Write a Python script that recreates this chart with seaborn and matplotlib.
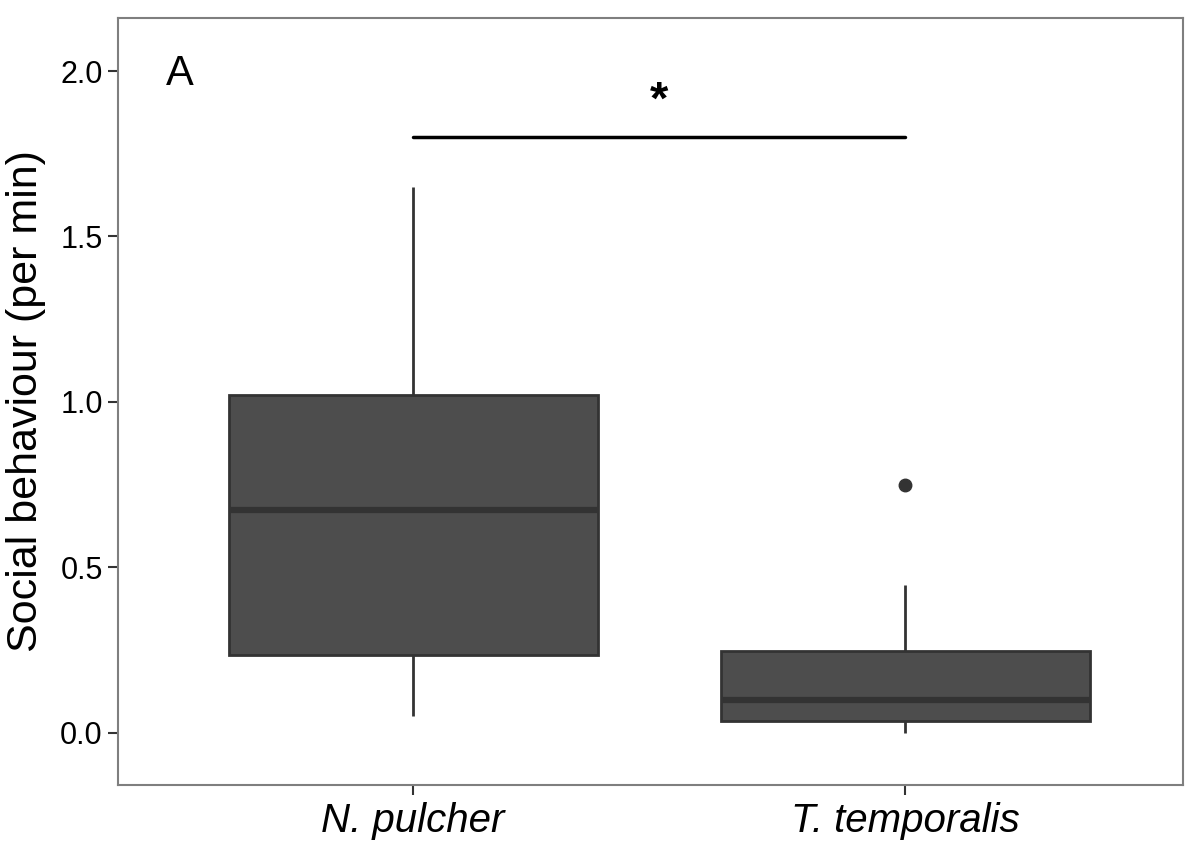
import pandas as pd
import numpy as np
import seaborn as sns
import matplotlib.pyplot as plt

# values (min, q1, median, q3, max + outlier)
species = ['N. pulcher', 'T. temporalis']
pulcher_vals = [0.05, 0.236, 0.674, 1.021, 1.65]
temporalis_vals = [0.0, 0.02, 0.036, 0.07, 0.10, 0.20, 0.248, 0.447, 0.749]
yticks = [0.0, 0.5, 1.0, 1.5, 2.0]

df = pd.DataFrame({
    'Species': [species[0]] * len(pulcher_vals) + [species[1]] * len(temporalis_vals),
    'Social': pulcher_vals + temporalis_vals,
})

sns.set_style('white')
plt.rcParams['font.family'] = ['Liberation Sans', 'DejaVu Sans']
plt.rcParams['text.color'] = 'black'

fig = plt.figure(figsize=(11.96, 8.51), dpi=100)
ax = fig.add_axes([0.0987, 0.0776, 0.8904, 0.9012])

sns.boxplot(x='Species', y='Social', data=df, order=species, ax=ax,
            color='#4D4D4D', linecolor='#333333', linewidth=2, saturation=1,
            width=0.75, showcaps=False, whis=1.5,
            medianprops={'linewidth': 4.5, 'color': '#333333'},
            flierprops={'marker': 'o', 'markersize': 9, 'markerfacecolor': '#333333',
                        'markeredgecolor': '#333333'})

ax.set_xlim(-0.6, 1.565)
ax.set_ylim(-0.157, 2.16)
ax.set_yticks(yticks)
ax.set_yticklabels(['{:.1f}'.format(t) for t in yticks])
ax.set_xlabel('')
ax.set_ylabel('Social behaviour (per min)', fontsize=31, labelpad=10, color='black')
for lab in ax.get_xticklabels():
    lab.set_fontstyle('italic')
ax.tick_params(axis='y', labelsize=22, length=7, width=1.5, color='#333333', pad=4,
               left=True, labelcolor='black')
ax.tick_params(axis='x', labelsize=29, length=7, width=1.5, color='#333333', pad=5,
               bottom=True, labelcolor='black')

for sp in ax.spines.values():
    sp.set_color('#7F7F7F')
    sp.set_linewidth(1.5)
    sp.set_visible(True)

# significance bar
ax.plot([0, 1], [1.80, 1.80], color='black', linewidth=2.5)
ax.text(0.5, 1.84, '*', ha='center', va='bottom', fontsize=34, fontweight='bold')
ax.text(-0.475, 1.99, 'A', ha='center', va='center', fontsize=30)

plt.savefig('out.png', dpi=100)
